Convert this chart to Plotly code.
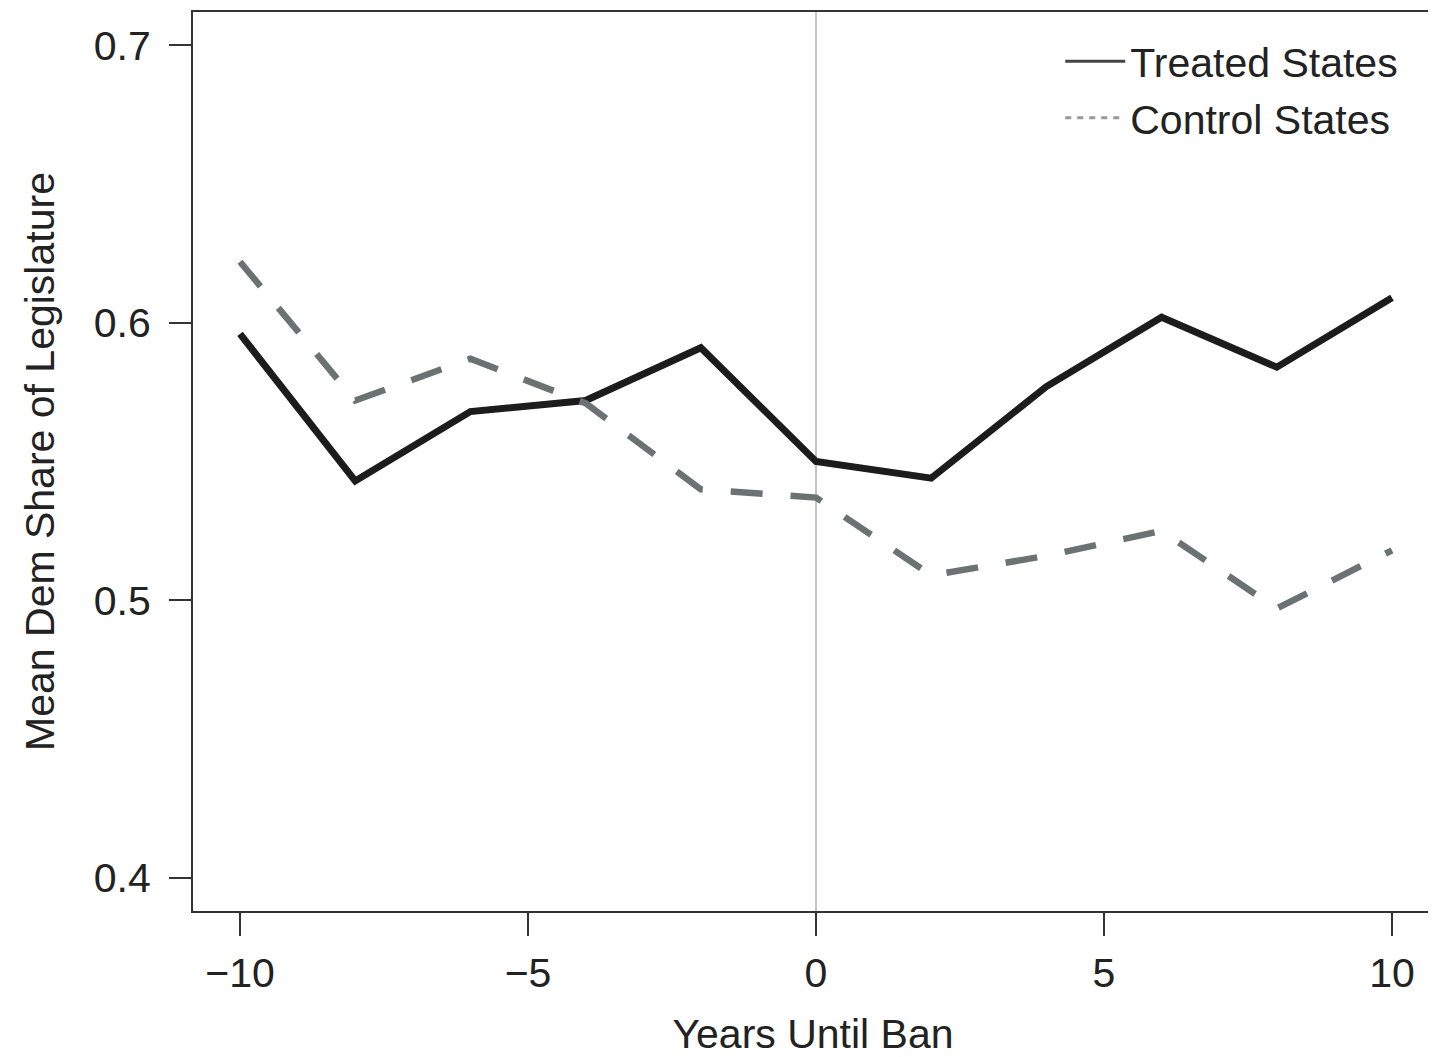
import plotly.graph_objects as go

years = [-10, -8, -6, -4, -2, 0, 2, 4, 6, 8, 10]
treated = [0.596, 0.543, 0.568, 0.572, 0.591, 0.550, 0.544, 0.577, 0.602, 0.584, 0.609]
control = [0.622, 0.572, 0.587, 0.571, 0.540, 0.537, 0.509, 0.516, 0.525, 0.497, 0.518]
x_ticks = [-10, -5, 0, 5, 10]
x_tick_labels = ["\u221210", "\u22125", "0", "5", "10"]
y_ticks = [0.4, 0.5, 0.6, 0.7]
y_tick_labels = ["0.4", "0.5", "0.6", "0.7"]

FONT = "Liberation Sans, Arial, sans-serif"
BLACK = "#1c1c1c"
GREY = "#6b7272"
FS = 41

fig = go.Figure()
fig.add_trace(go.Scatter(x=years, y=treated, mode="lines", name="Treated States",
                         line=dict(color=BLACK, width=7), showlegend=False))
fig.add_trace(go.Scatter(x=years, y=control, mode="lines", name="Control States",
                         line=dict(color=GREY, width=6.5, dash="32px,28px"), showlegend=False))
# legend entries (thin lines as in the reference)
fig.add_trace(go.Scatter(x=[None], y=[None], mode="lines", name="Treated States",
                         line=dict(color="#444444", width=3)))
fig.add_trace(go.Scatter(x=[None], y=[None], mode="lines", name="Control States",
                         line=dict(color="#999999", width=3, dash="6px,6px")))

fig.add_vline(x=0, line=dict(color="#c4c4c4", width=2), layer="below")

fig.update_layout(
    width=1436, height=1057,
    margin=dict(l=185, r=11, t=4, b=154),
    plot_bgcolor="white", paper_bgcolor="white",
    font=dict(family=FONT, size=FS, color="#222222"),
    legend=dict(x=0.976, y=0.982, xanchor="right", yanchor="top",
                bgcolor="rgba(0,0,0,0)", font=dict(size=FS), itemwidth=60,
                tracegroupgap=0),
    xaxis=dict(range=[-10.816, 10.712], tickvals=x_ticks, ticktext=x_tick_labels,
               showgrid=False, zeroline=False, showline=True, linecolor="#333333",
               linewidth=2, mirror=True, ticks="outside", ticklen=23, tickwidth=2,
               tickcolor="#333333", ticklabelstandoff=2, automargin=False,
               title=dict(text="Years Until Ban", standoff=24, font=dict(size=FS))),
    yaxis=dict(range=[0.388, 0.712], tickvals=y_ticks, ticktext=y_tick_labels,
               showgrid=False, zeroline=False, showline=True, linecolor="#333333",
               linewidth=2, mirror=True, ticks="outside", ticklen=22, tickwidth=2,
               tickcolor="#333333", ticklabelstandoff=10, automargin=False,
               title=dict(text="Mean Dem Share of Legislature", standoff=26, font=dict(size=FS))),
)

fig.write_html("out.html")
